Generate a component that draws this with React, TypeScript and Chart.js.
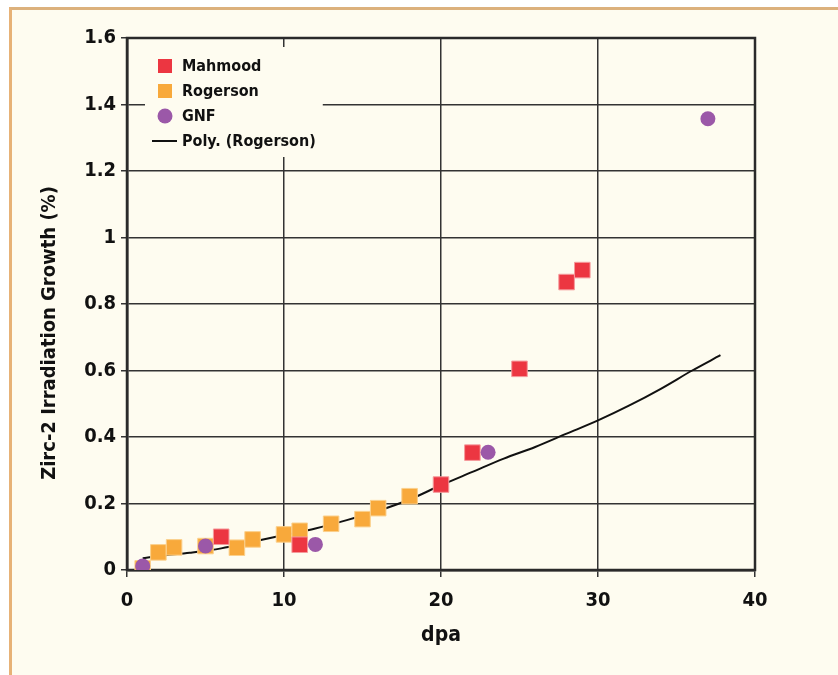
import React, { useEffect, useRef } from "react";
import { Chart, registerables } from "chart.js";

Chart.register(...registerables);

const FONT = '"Liberation Sans Narrow", "DejaVu Sans Condensed", "Arial Narrow", sans-serif';

const seriesNames = ["Mahmood", "Rogerson", "GNF", "Poly. (Rogerson)"];

const mahmoodX = [6, 11, 20, 22, 25, 28, 29];
const mahmoodY = [0.1, 0.076, 0.257, 0.353, 0.605, 0.866, 0.902];

const rogersonX = [1, 2, 3, 5, 7, 8, 10, 11, 13, 15, 16, 18];
const rogersonY = [0.005, 0.053, 0.068, 0.072, 0.067, 0.092, 0.107, 0.118, 0.139, 0.153, 0.186, 0.222];

const gnfX = [1, 5, 12, 23, 37];
const gnfY = [0.012, 0.072, 0.077, 0.354, 1.357];

const polyX = [1, 2, 4, 6, 8, 10, 12, 14, 16, 18, 20, 22, 24, 26, 28, 30, 32, 34, 36, 37.8];
const polyY = [0.035, 0.042, 0.052, 0.065, 0.085, 0.105, 0.125, 0.15, 0.178, 0.212, 0.255, 0.295, 0.335, 0.37, 0.41, 0.45, 0.495, 0.545, 0.6, 0.646];

const xTitle = "dpa";
const yTitle = "Zirc-2 Irradiation Growth (%)";

const RED = "#ec3641";
const ORANGE = "#f8a93b";
const PURPLE = "#9b58a8";
const BG = "#fefcf0";

const pts = (xs: number[], ys: number[]) => xs.map((x, i) => ({ x, y: ys[i] }));

const frameBox = {
  id: "frameBox",
  beforeDatasetsDraw(chart: any) {
    const { ctx, chartArea } = chart;
    ctx.save();
    ctx.strokeStyle = "#2a2a2a";
    ctx.lineWidth = 2.5;
    ctx.strokeRect(chartArea.left, chartArea.top, chartArea.right - chartArea.left, chartArea.bottom - chartArea.top);
    ctx.restore();
  },
};

const yTitlePlugin = {
  id: "yTitlePlugin",
  afterDraw(chart: any) {
    const { ctx } = chart;
    ctx.save();
    ctx.translate(50, 333);
    ctx.rotate(-Math.PI / 2);
    ctx.font = `bold 20px ${FONT}`;
    ctx.fillStyle = "#111";
    ctx.textAlign = "center";
    ctx.textBaseline = "middle";
    ctx.fillText(yTitle, 0, 0);
    ctx.restore();
  },
};

const innerLegend = {
  id: "innerLegend",
  afterDraw(chart: any) {
    const { ctx } = chart;
    ctx.save();
    const rows = [66, 91, 116, 141];
    const ds = chart.data.datasets;
    ctx.font = `bold 16px ${FONT}`;
    let maxW = 0;
    ds.forEach((d: any) => { maxW = Math.max(maxW, ctx.measureText(d.label).width); });
    ctx.fillStyle = BG;
    ctx.fillRect(145, 47, 182 + maxW + 7 - 145, 110);
    ctx.textBaseline = "middle";
    ctx.textAlign = "left";
    ds.forEach((d: any, i: number) => {
      const y = rows[i];
      if (d.pointStyle === "rect") {
        ctx.fillStyle = d.backgroundColor;
        ctx.fillRect(158, y - 7, 14, 14);
      } else if (d.pointStyle === "circle") {
        ctx.fillStyle = d.backgroundColor;
        ctx.beginPath();
        ctx.arc(165, y, 7.5, 0, Math.PI * 2);
        ctx.fill();
      } else {
        ctx.strokeStyle = d.borderColor;
        ctx.lineWidth = 2;
        ctx.beginPath();
        ctx.moveTo(152, y);
        ctx.lineTo(177, y);
        ctx.stroke();
      }
      ctx.fillStyle = "#111";
      ctx.fillText(d.label, 182, y + 1);
    });
    ctx.restore();
  },
};

export default function App() {
  const ref = useRef<HTMLCanvasElement>(null);
  useEffect(() => {
    if (!ref.current) return;
    const chart = new Chart(ref.current, {
      type: "scatter",
      data: {
        datasets: [
          {
            label: seriesNames[0],
            data: pts(mahmoodX, mahmoodY),
            pointStyle: "rect",
            pointRadius: 11,
            backgroundColor: RED,
            borderColor: "#f59a9c",
            borderWidth: 1,
            order: 1,
          },
          {
            label: seriesNames[1],
            data: pts(rogersonX, rogersonY),
            pointStyle: "rect",
            pointRadius: 11,
            backgroundColor: ORANGE,
            borderColor: "#fbd08c",
            borderWidth: 1,
            order: 2,
          },
          {
            label: seriesNames[2],
            data: pts(gnfX, gnfY),
            pointStyle: "circle",
            pointRadius: 7.5,
            backgroundColor: PURPLE,
            borderColor: PURPLE,
            borderWidth: 0,
            order: 0,
          },
          {
            label: seriesNames[3],
            type: "line",
            data: pts(polyX, polyY),
            showLine: true,
            pointRadius: 0,
            borderColor: "#111",
            borderWidth: 2,
            cubicInterpolationMode: "monotone",
            fill: false,
            order: 3,
          } as any,
        ],
      },
      options: {
        animation: false,
        responsive: false,
        maintainAspectRatio: false,
        layout: { padding: { left: 0, right: 83, top: 38, bottom: 0 } },
        plugins: { legend: { display: false }, tooltip: { enabled: false } },
        scales: {
          x: {
            type: "linear",
            min: 0,
            max: 40,
            ticks: { stepSize: 10, color: "#111", padding: 12, font: { family: FONT, size: 20, weight: "bold" } },
            grid: { color: "#333", lineWidth: 1.5, tickLength: 7, tickColor: "#333" },
            border: { display: true, color: "#222", width: 2.5 },
            title: { display: true, text: xTitle, color: "#111", padding: { top: 0, bottom: 27 }, font: { family: FONT, size: 21, weight: "bold" } },
            afterFit: (s: any) => { s.height = 105; },
          },
          y: {
            type: "linear",
            min: 0,
            max: 1.6,
            ticks: {
              stepSize: 0.2,
              color: "#111",
              padding: 5,
              font: { family: FONT, size: 20, weight: "bold" },
              callback: (v: any) => String(Number(Number(v).toFixed(1))),
            },
            grid: { color: "#333", lineWidth: 1.5, tickLength: 6, tickColor: "#333" },
            border: { display: true, color: "#222", width: 2.5 },
            title: { display: false },
            afterFit: (s: any) => { s.width = 127; },
          },
        },
      },
      plugins: [frameBox, innerLegend, yTitlePlugin],
    });
    return () => chart.destroy();
  }, []);

  return (
    <div style={{ position: "absolute", left: 0, top: 0, width: 838, height: 675, background: "#ffffff", overflow: "hidden" }}>
      <div
        style={{
          position: "absolute",
          left: 9,
          top: 7,
          width: 900,
          height: 700,
          background: BG,
          borderLeft: "3px solid #e7b277",
          borderTop: "3px solid #dcb17c",
        }}
      />
      <canvas ref={ref} width={838} height={675} style={{ position: "absolute", left: 0, top: 0, width: 838, height: 675 }} />
    </div>
  );
}
